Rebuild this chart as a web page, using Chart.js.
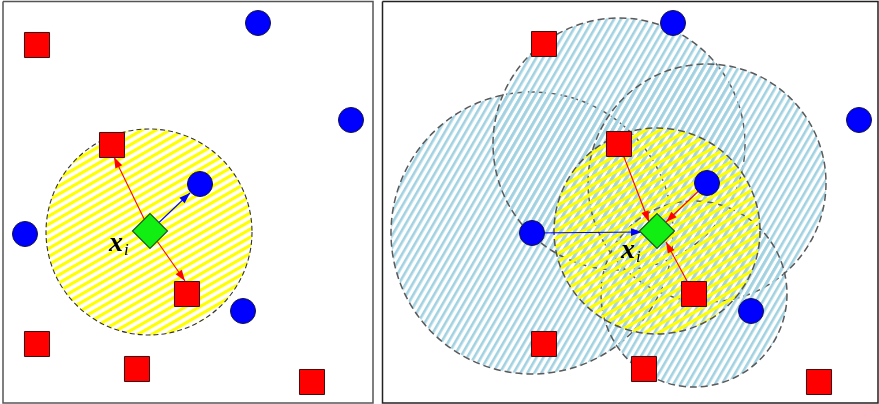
<!DOCTYPE html>
<html>
<head>
<meta charset="utf-8">
<script src="https://cdn.jsdelivr.net/npm/chart.js@4/dist/chart.umd.min.js"></script>
<style>
  html, body { margin: 0; padding: 0; background: #fff; }
  #wrap { width: 879px; height: 404px; }
</style>
</head>
<body>
<div id="wrap"><canvas id="knn" width="879" height="404"></canvas></div>
<script>
// class 1 points (red squares), left panel then right panel
const redSquares = [
  { x: 37, y: 45 }, { x: 112, y: 145 }, { x: 187, y: 294 },
  { x: 37, y: 344 }, { x: 137, y: 369 }, { x: 312, y: 382 },
  { x: 544, y: 44 }, { x: 619, y: 144 }, { x: 694, y: 294 },
  { x: 544, y: 344 }, { x: 644, y: 369 }, { x: 819, y: 382 }
];
// class 2 points (blue dots)
const blueDots = [
  { x: 258, y: 23 }, { x: 351, y: 120 }, { x: 200, y: 184 },
  { x: 25, y: 234 }, { x: 243, y: 311 },
  { x: 673, y: 23 }, { x: 859, y: 120 }, { x: 707, y: 183 },
  { x: 532, y: 233 }, { x: 751, y: 311 }
];
// query point x_i in both panels
const queryPoints = [{ x: 150, y: 231 }, { x: 657, y: 231 }];
// neighbourhood of x_i (yellow)
const queryBalls = [{ x: 149, y: 232, r: 103 }, { x: 657, y: 231, r: 103 }];
// neighbourhoods of the other points (blue, right panel)
const otherBalls = [
  { x: 532, y: 233, r: 141 },
  { x: 619, y: 144, r: 126 },
  { x: 707, y: 183, r: 119 },
  { x: 694, y: 294, r: 93 }
];
// arrows: [start, tip]
const redArrows = [
  [[150, 231], [114, 157]],
  [[150, 231], [185, 281]],
  [[619, 144], [649, 222]],
  [[707, 183], [666, 222]],
  [[694, 294], [666, 242]]
];
const blueArrows = [
  [[150, 231], [190, 193]],
  [[532, 233], [642, 232]]
];
// panel frames [left, top, right, bottom]
const frames = [[3, 1.5, 373, 403], [382.5, 1.5, 878, 403]];
const frameColors = ["#555", "#222"];
// label x_i baseline positions
const labelPos = [{ x: 109, y: 251 }, { x: 621, y: 258 }];

function stripes(color, period, width, angle) {
  const c = document.createElement("canvas");
  c.width = period;
  c.height = period;
  const g = c.getContext("2d");
  g.fillStyle = color;
  g.fillRect(0, 0, width, period);
  const p = g.createPattern(c, "repeat");
  p.setTransform(new DOMMatrix().rotateSelf(angle));
  return p;
}

const yellowHatch = stripes("#ffff00", 7, 3.2, 60);
const blueHatch = stripes("#a2d2e2", 6, 2.6, 30);

const datasets = [];

// frames on top
frames.forEach((f, i) => {
  datasets.push({
    type: "line",
    data: [
      { x: f[0], y: f[1] }, { x: f[2], y: f[1] }, { x: f[2], y: f[3] },
      { x: f[0], y: f[3] }, { x: f[0], y: f[1] }
    ],
    borderColor: frameColors[i],
    borderWidth: 1.5,
    pointRadius: 0,
    fill: false,
    order: 1
  });
});

datasets.push({
  type: "scatter",
  data: queryPoints,
  pointStyle: "rectRot",
  pointRadius: 17.5,
  backgroundColor: "#11ee11",
  borderColor: "#1a5a1a",
  borderWidth: 1.2,
  order: 2
});
datasets.push({
  type: "scatter",
  data: redSquares,
  pointStyle: "rect",
  pointRadius: 17.7,
  backgroundColor: "#ff0000",
  borderColor: "#3a1010",
  borderWidth: 1,
  order: 3
});
datasets.push({
  type: "scatter",
  data: blueDots,
  pointStyle: "circle",
  pointRadius: 12.5,
  backgroundColor: "#0000ff",
  borderColor: "#10104a",
  borderWidth: 1,
  order: 3
});

function addArrows(list, color) {
  list.forEach(a => {
    datasets.push({
      type: "line",
      data: [{ x: a[0][0], y: a[0][1] }, { x: a[1][0], y: a[1][1] }],
      borderColor: color,
      borderWidth: 1.1,
      pointRadius: 0,
      fill: false,
      arrow: true,
      order: 4
    });
  });
}
addArrows(redArrows, "#ff0000");
addArrows(blueArrows, "#0000ff");

datasets.push({
  type: "bubble",
  data: [queryBalls[0]],
  backgroundColor: yellowHatch,
  borderColor: "#333",
  borderWidth: 1.1,
  dash: [5, 3],
  order: 5
});
datasets.push({
  type: "bubble",
  data: [queryBalls[1]],
  backgroundColor: yellowHatch,
  borderColor: "#555",
  borderWidth: 1.5,
  dash: [7, 4],
  order: 5
});
datasets.push({
  type: "bubble",
  data: otherBalls,
  backgroundColor: blueHatch,
  borderColor: "#5a5a5a",
  borderWidth: 1.5,
  dash: [7, 4],
  order: 6
});

const extras = {
  id: "extras",
  beforeDatasetDraw(chart, args) {
    const ds = chart.data.datasets[args.index];
    chart.ctx.save();
    if (ds.dash) chart.ctx.setLineDash(ds.dash);
  },
  afterDatasetDraw(chart, args) {
    const ds = chart.data.datasets[args.index];
    const ctx = chart.ctx;
    ctx.restore();
    if (ds.arrow) {
      const pts = args.meta.data;
      const a = pts[0], b = pts[pts.length - 1];
      const ang = Math.atan2(b.y - a.y, b.x - a.x);
      ctx.save();
      ctx.translate(b.x, b.y);
      ctx.rotate(ang);
      ctx.beginPath();
      ctx.moveTo(0, 0);
      ctx.lineTo(-11, -3.8);
      ctx.lineTo(-11, 3.8);
      ctx.closePath();
      ctx.fillStyle = ds.borderColor;
      ctx.fill();
      ctx.restore();
    }
  },
  afterDatasetsDraw(chart) {
    const ctx = chart.ctx;
    const sx = chart.scales.x, sy = chart.scales.y;
    ctx.save();
    ctx.fillStyle = "#000";
    ctx.textBaseline = "alphabetic";
    labelPos.forEach(p => {
      const px = sx.getPixelForValue(p.x), py = sy.getPixelForValue(p.y);
      ctx.font = "bold italic 28px 'Liberation Serif'";
      ctx.fillText("x", px, py);
      const w = ctx.measureText("x").width;
      ctx.font = "italic 17px 'Liberation Serif'";
      ctx.fillText("i", px + w + 1, py + 4);
    });
    ctx.restore();
  }
};

new Chart(document.getElementById("knn"), {
  type: "scatter",
  data: { datasets },
  options: {
    responsive: false,
    animation: false,
    events: [],
    layout: { padding: 0, autoPadding: false },
    elements: { line: { tension: 0 } },
    plugins: { legend: { display: false }, tooltip: { enabled: false } },
    scales: {
      x: { type: "linear", min: 0, max: 879, display: false },
      y: { type: "linear", min: 0, max: 404, reverse: true, display: false }
    }
  },
  plugins: [extras]
});
</script>
</body>
</html>
